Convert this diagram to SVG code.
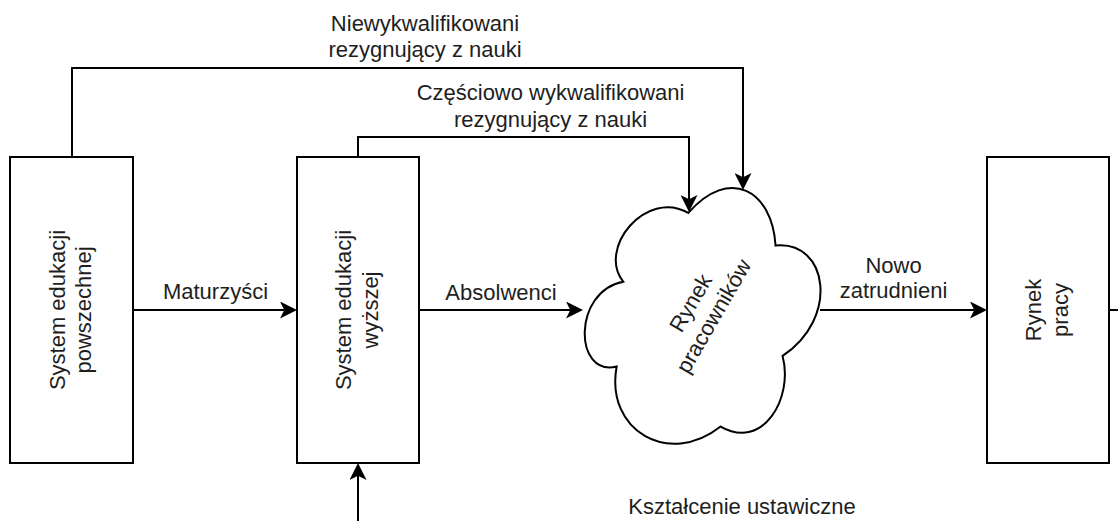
<svg xmlns="http://www.w3.org/2000/svg" width="1118" height="521" viewBox="0 0 1118 521">
<style>
.box{fill:#fff;stroke:#000;stroke-width:2}
.edge{fill:none;stroke:#000;stroke-width:2}
.t{font-family:"Liberation Sans",Arial,sans-serif;font-size:22px;fill:#1e1e1e;text-anchor:middle}
</style>
<defs>
<marker id="arr" viewBox="0 0 17 17" refX="4.25" refY="8.5" markerWidth="17" markerHeight="17" markerUnits="userSpaceOnUse" orient="auto">
<path d="M0,0 L17,8.5 L0,17 L4.25,8.5 Z" fill="#000"/>
</marker>
</defs>
<rect width="1118" height="521" fill="#fff"/>
<g id="connectors">
<path class="edge" d="M72,157 V68 H743 V177.25" marker-end="url(#arr)"/>
<path class="edge" d="M358,157 V137 H689 V199.25" marker-end="url(#arr)"/>
<path class="edge" d="M133,310 H284.25" marker-end="url(#arr)"/>
<path class="edge" d="M419,310 H570.25" marker-end="url(#arr)"/>
<path class="edge" d="M820,310 H974.25" marker-end="url(#arr)"/>
<path class="edge" d="M358,521 V475.75" marker-end="url(#arr)"/>
<path class="edge" d="M1109,310 H1118"/>
<text class="t" x="425" y="30.7">Niewykwalifikowani</text>
<text class="t" x="425" y="57.3">rezygnujący z nauki</text>
<text class="t" x="550.5" y="100">Częściowo wykwalifikowani</text>
<text class="t" x="550.5" y="126.7">rezygnujący z nauki</text>
<text class="t" x="215.5" y="298.5">Maturzyści</text>
<text class="t" x="501" y="299.5">Absolwenci</text>
<text class="t" x="893.5" y="273.3">Nowo</text>
<text class="t" x="893.5" y="298.3">zatrudnieni</text>
<text class="t" x="742" y="514">Kształcenie ustawiczne</text>
</g>
<g id="system-edukacji-powszechnej">
<rect class="box" x="10" y="157" width="123" height="306"/>
<text class="t" transform="translate(71.5,310) rotate(-90)"><tspan x="0" y="-6.5">System edukacji</tspan><tspan x="0" y="19.9">powszechnej</tspan></text>
</g>
<g id="system-edukacji-wyzszej">
<rect class="box" x="297" y="157" width="122" height="306"/>
<text class="t" transform="translate(358,310) rotate(-90)"><tspan x="0" y="-6.8">System edukacji</tspan><tspan x="0" y="19.6">wyższej</tspan></text>
</g>
<g id="rynek-pracownikow">
<path class="box" transform="rotate(30 703 310) translate(580.5 156.5)" d="M61.25,76.75 C12.25,76.75 0,153.5 39.2,168.85 C0,202.62 44.1,276.3 75.95,245.6 C98,307 171.5,307 196,245.6 C245,245.6 245,184.2 214.375,153.5 C245,92.1 196,30.7 153.125,61.4 C122.5,15.35 73.5,15.35 61.25,76.75 Z"/>
<text class="t" transform="translate(703,310) rotate(-60)"><tspan x="0" y="-6.7">Rynek</tspan><tspan x="0" y="19.7">pracowników</tspan></text>
</g>
<g id="rynek-pracy">
<rect class="box" x="987" y="157" width="122" height="306"/>
<text class="t" transform="translate(1048,310) rotate(-90)"><tspan x="0" y="-6.7">Rynek</tspan><tspan x="0" y="19.7">pracy</tspan></text>
</g>
</svg>
